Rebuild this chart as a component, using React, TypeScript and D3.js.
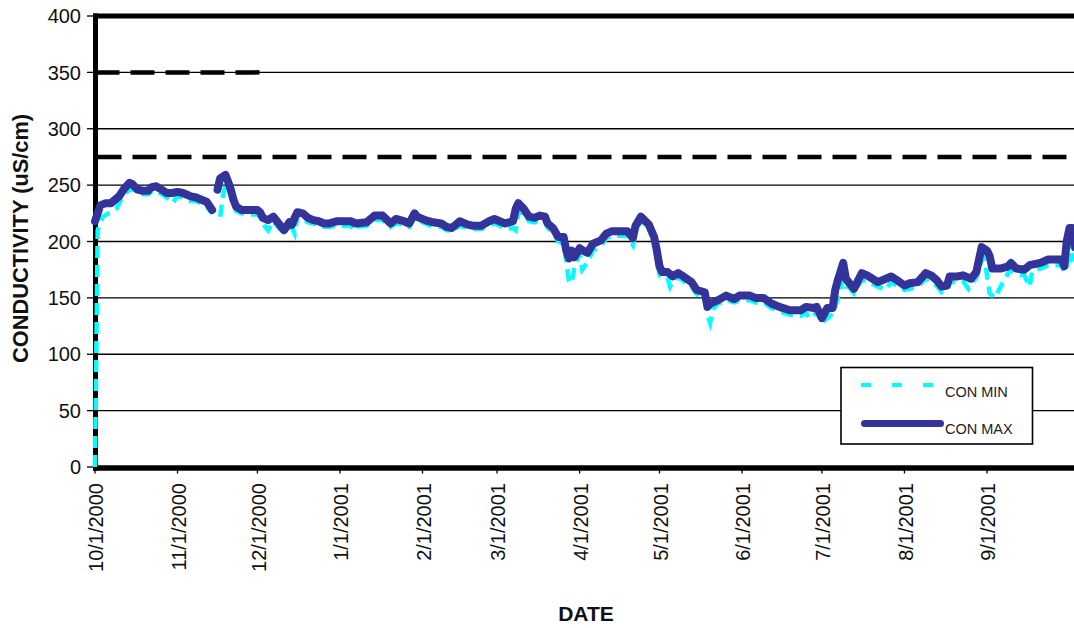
import React from 'react';
import * as d3 from 'd3';

// Day offsets are counted from 10/1/2000
const START = new Date(2000, 9, 1);

const tickLabels = ['10/1/2000', '11/1/2000', '12/1/2000', '1/1/2001', '2/1/2001', '3/1/2001', '4/1/2001', '5/1/2001', '6/1/2001', '7/1/2001', '8/1/2001', '9/1/2001'];
const yTicks = [0, 50, 100, 150, 200, 250, 300, 350, 400];

const maxDays = [0, 1, 2, 4, 6, 7, 9, 11, 13, 14, 16, 18, 20, 21, 23, 25, 27, 29, 31, 33, 35, 36, 38, 40, 42, 44, 45, 46, 47, 49, 50, 51, 52, 53, 55, 57, 61, 62, 63, 65, 67, 69, 71, 73, 74, 75, 76, 78, 80, 82, 84, 86, 88, 91, 96, 98, 102, 105, 108, 111, 113, 116, 118, 120, 121, 124, 127, 130, 132, 134, 137, 140, 142, 145, 148, 150, 152, 154, 157, 158, 159, 161, 163, 165, 167, 169, 170, 172, 174, 176, 177, 178, 179, 180, 182, 184, 185, 187, 190, 192, 194, 200, 202, 203, 205, 208, 210, 211, 212, 213, 215, 217, 219, 221, 224, 226, 229, 230, 231, 234, 237, 240, 242, 246, 248, 251, 254, 257, 261, 265, 267, 270, 271, 273, 275, 277, 278, 279, 281, 282, 283, 285, 288, 290, 294, 299, 301, 304, 306, 309, 312, 314, 316, 318, 320, 321, 324, 326, 329, 331, 333, 335, 336, 337, 340, 343, 344, 346, 349, 351, 355, 358, 363, 364, 365, 366, 367, 368];
const maxValues = [218, 225, 232, 234, 234, 236, 240, 247, 252, 251, 246, 245, 245, 248, 249, 246, 243, 243, 244, 243, 241, 240, 239, 237, 235, 228, null, 246, 256, 259, 253, 246, 237, 231, 228, 228, 228, 226, 221, 219, 222, 216, 210, 217, 215, 221, 226, 225, 221, 219, 218, 216, 216, 218, 218, 216, 217, 223, 223, 216, 220, 218, 216, 225, 222, 219, 217, 216, 213, 212, 218, 215, 214, 214, 218, 220, 218, 216, 218, 229, 234, 229, 222, 221, 223, 222, 216, 212, 204, 204, 192, 185, 192, 186, 194, 191, 190, 198, 201, 207, 209, 209, 203, 214, 222, 215, 204, 192, 178, 173, 173, 169, 172, 169, 164, 157, 155, 142, 145, 148, 152, 149, 152, 152, 150, 150, 145, 142, 139, 139, 142, 141, 142, 132, 141, 141, 157, 166, 181, 167, 164, 158, 172, 170, 164, 169, 166, 161, 163, 164, 172, 170, 166, 160, 161, 169, 169, 170, 167, 173, 195, 192, 187, 176, 176, 178, 181, 176, 175, 179, 181, 184, 184, 178, 201, 212, 212, 195];

const minDays = [0, 1, 2, 3, 5, 8, 10, 12, 14, 16, 18, 20, 21, 23, 25, 27, 29, 31, 33, 35, 36, 38, 40, 42, 44, 45, 47, 48, 49, 50, 51, 52, 53, 55, 57, 61, 62, 63, 65, 67, 69, 71, 73, 74, 75, 76, 78, 80, 82, 84, 86, 88, 91, 96, 97, 98, 102, 105, 108, 111, 113, 116, 118, 120, 121, 124, 127, 130, 132, 134, 137, 140, 142, 145, 148, 150, 152, 154, 157, 158, 159, 161, 163, 165, 167, 169, 170, 172, 174, 176, 177, 178, 179, 180, 182, 183, 185, 187, 190, 192, 194, 200, 202, 203, 205, 208, 210, 211, 212, 213, 215, 216, 217, 219, 221, 224, 226, 229, 230, 231, 232, 234, 237, 240, 242, 246, 248, 251, 254, 257, 261, 265, 267, 268, 270, 271, 273, 275, 277, 278, 279, 281, 282, 283, 285, 288, 290, 294, 297, 299, 301, 304, 306, 309, 312, 314, 316, 318, 320, 321, 324, 326, 328, 329, 331, 333, 334, 335, 336, 338, 341, 343, 344, 346, 349, 351, 352, 355, 358, 363, 364, 365, 366, 367, 368];
const minValues = [0, 210, 216, 222, 225, 229, 238, 244, 247, 243, 242, 242, 244, 245, 242, 239, 234, 240, 239, 237, 236, 236, 233, 231, 225, null, 222, 240, 250, 248, 240, 232, 227, 225, 224, 224, 222, 216, 210, 218, 212, 208, 213, 212, 207, 222, 221, 217, 216, 215, 213, 213, 214, 214, 210, 213, 214, 219, 219, 213, 216, 215, 213, 221, 219, 216, 213, 213, 210, 209, 214, 212, 211, 211, 214, 216, 214, 211, 212, 210, 226, 225, 218, 217, 219, 218, 212, 208, 200, 198, 182, 165, 163, 176, 189, 175, 182, 192, 196, 203, 205, 205, 197, 210, 218, 211, 200, 186, 170, 168, 168, 160, 165, 168, 165, 160, 153, 150, 135, 128, 140, 145, 148, 146, 148, 148, 146, 146, 141, 138, 135, 134, 137, 132, 135, 138, 128, 132, 136, 142, 150, 167, 160, 160, 154, 166, 165, 160, 157, 164, 161, 157, 158, 160, 167, 165, 161, 155, 156, 164, 164, 165, 158, 162, 168, 183, 186, 170, 154, 150, 164, 172, 175, 171, 170, 160, 174, 176, 179, 179, 173, 175, 200, 184, 186];

const limitHigh = 350;
const limitHighEndDay = 64;
const limitLow = 275;

const FONT = '"Liberation Sans", Arial, Helvetica, sans-serif';

type Pt = { date: Date; v: number | null };

function toPoints(days: number[], vals: (number | null)[]): Pt[] {
  return days.map((d, i) => ({ date: d3.timeDay.offset(START, d), v: vals[i] }));
}

export default function App() {
  const W = 1074;
  const H = 628;
  const x = d3.scaleTime().domain([new Date(2000, 9, 1), new Date(2001, 8, 1)]).range([95, 987]);
  const y = d3.scaleLinear().domain([0, 400]).range([467, 16]);
  const left = 95.5;
  const right = 1110;
  const bottom = 468;
  const top = 16;

  const tickDates = d3.timeMonth.range(new Date(2000, 9, 1), new Date(2001, 8, 2));

  const line = d3
    .line<Pt>()
    .defined((p) => p.v !== null)
    .x((p) => x(p.date))
    .y((p) => y(p.v as number));

  const maxPts = toPoints(maxDays, maxValues);
  const minPts = toPoints(minDays, minValues);

  return (
    <svg width={W} height={H} style={{ position: 'absolute', left: 0, top: 0, background: '#fff' }}>
      <defs>
        <clipPath id="ylab-clip">
          <rect x={0} y={114} width={60} height={400} />
        </clipPath>
      </defs>
      <rect x={0} y={0} width={W} height={H} fill="#fff" />
      {/* gridlines */}
      {yTicks.filter((t) => t > 0 && t < 400).map((t) => (
        <line key={t} x1={left} x2={right} y1={y(t)} y2={y(t)} stroke="#000" strokeWidth={1.3} />
      ))}
      {/* limit lines */}
      <line x1={left} x2={x(d3.timeDay.offset(START, limitHighEndDay))} y1={y(limitHigh)} y2={y(limitHigh)} stroke="#000" strokeWidth={4.5} strokeDasharray="24,11" />
      <line x1={left + 2} x2={right} y1={y(limitLow)} y2={y(limitLow)} stroke="#000" strokeWidth={4.5} strokeDasharray="24,11" />
      {/* y ticks and labels */}
      {yTicks.map((t) => (
        <g key={t}>
          <line x1={87} x2={93} y1={y(t)} y2={y(t)} stroke="#000" strokeWidth={1.3} />
          <text x={81} y={y(t)} dy="0.36em" textAnchor="end" fontFamily={FONT} fontSize={20} fill="#111">
            {t}
          </text>
        </g>
      ))}
      {/* x ticks and labels */}
      {tickDates.map((d, i) => (
        <g key={i}>
          <line x1={x(d)} x2={x(d)} y1={bottom} y2={bottom + 5.5} stroke="#000" strokeWidth={1.3} />
          <text
            transform={`translate(${x(d) + 1},${483}) rotate(-90)`}
            dy="0.36em"
            textAnchor="end"
            fontFamily={FONT}
            fontSize={20}
            fill="#111"
          >
            {tickLabels[i]}
          </text>
        </g>
      ))}
      {/* frame */}
      <line x1={left - 2.5} x2={right} y1={top} y2={top} stroke="#000" strokeWidth={5} />
      <line x1={left} x2={left} y1={top - 2.5} y2={bottom + 2.5} stroke="#000" strokeWidth={5} />
      <line x1={left - 2.5} x2={right} y1={bottom} y2={bottom} stroke="#000" strokeWidth={5.5} />
      {/* series */}
      <path d={line(minPts) || ''} fill="none" stroke="#00FFFF" strokeWidth={4.5} strokeDasharray="12,7" />
      <path d={line(maxPts) || ''} fill="none" stroke="#333399" strokeWidth={8} strokeLinejoin="round" strokeLinecap="round" />
      {/* axis titles */}
      <g clipPath="url(#ylab-clip)">
        <text transform="translate(27.5,363) rotate(-90)" textAnchor="start" fontFamily={FONT} fontSize={21.8} fontWeight="bold" fill="#111">
          CONDUCTIVITY (uS/cm)
        </text>
      </g>
      <text x={586} y={621} textAnchor="middle" fontFamily={FONT} fontSize={21} fontWeight="bold" fill="#111">
        DATE
      </text>
      {/* legend */}
      <rect x={841} y={367.5} width={191.5} height={76.5} fill="#fff" stroke="#000" strokeWidth={1.6} />
      <line x1={861} x2={934} y1={385} y2={385} stroke="#00FFFF" strokeWidth={4} strokeDasharray="10,21" />
      <text x={945} y={396.5} fontFamily={FONT} fontSize={14.5} fill="#222">CON MIN</text>
      <line x1={864.5} x2={940.5} y1={423.5} y2={423.5} stroke="#333399" strokeWidth={7} strokeLinecap="round" />
      <text x={945} y={433.5} fontFamily={FONT} fontSize={14.5} fill="#222">CON MAX</text>
    </svg>
  );
}
